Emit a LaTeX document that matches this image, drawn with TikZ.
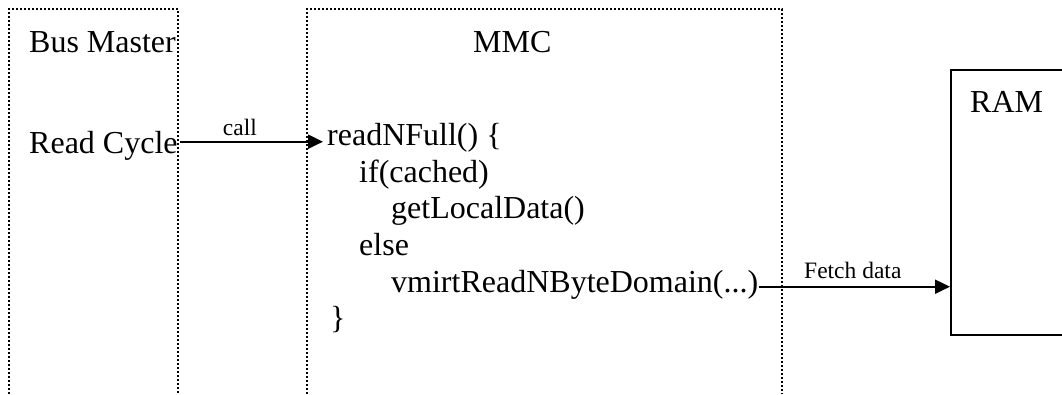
\documentclass[tikz,border=0pt]{standalone}
\usepackage{fontspec}
\setmainfont{Liberation Serif}
\usetikzlibrary{arrows.meta,calc}
\begin{document}
\begin{tikzpicture}[x=1pt,y=-1pt,
  big/.style={font=\fontsize{32}{36}\selectfont, inner sep=0pt, anchor=base west},
  small/.style={font=\fontsize{23.5}{28}\selectfont, inner sep=0pt},
  lane/.style={line width=1.7pt, dash pattern=on 1.6pt off 2.4pt},
  arr/.style={line width=2.2pt, -{Triangle[length=15pt,width=14pt]}},
  solidbox/.style={draw, line width=2pt, inner sep=0pt, anchor=north west,
    minimum width=140pt, minimum height=265pt}]
\useasboundingbox (0,0) rectangle (1062,394);
\clip (0,0) rectangle (1062,394);

% swim lanes, open at the bottom
\draw[lane] (9,394) -- (9,9) -- (178,9) -- (178,394);
\draw[lane] (307,394) -- (307,9) -- (782,9) -- (782,394);

% memory block
\node[solidbox] (ram) at (950,69) {};
\node[big] (ramlabel) at (970,112.5) {RAM};

% bus master lane
\node[big] (bm) at (29,52) {Bus Master};
\node[big] (rc) at (29,153) {Read Cycle};

% MMC lane
\node[big] (mmc) at (473,52) {MMC};
\node[big] (rn) at (327,145) {readNFull() \{};
\node[big] (ifc) at (359,182) {if(cached)};
\node[big] (gl) at (391,218.5) {getLocalData()};
\node[big] (els) at (359,255) {else};
\node[big] (vm) at (391,292) {vmirtReadNByteDomain(...)};
\node[big] (cb) at (330,328.5) {\}};

% connectors
\draw[arr] ($(rc.base east)+(2,-11.3)$) -- ($(rn.base west)+(-4,-3.3)$)
  node[small, pos=0.42, anchor=base, yshift=6.5pt] (calllbl) {call};
\draw[arr, line width=2pt] ($(vm.base east)+(1,-5.3)$) coordinate (fs) -- (ram.west |- fs)
  node[small, pos=0.49, anchor=base, yshift=8.7pt] (fetchlbl) {Fetch data};
\end{tikzpicture}
\end{document}
